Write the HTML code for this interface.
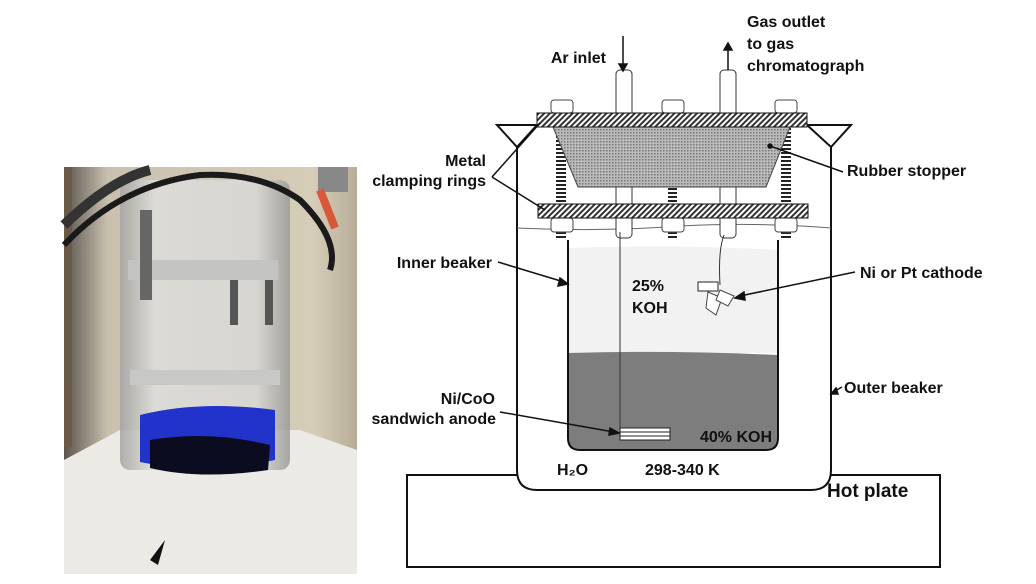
<!DOCTYPE html>
<html><head><meta charset="utf-8"><style>
html,body{margin:0;padding:0;background:#fff;}
svg{display:block;}
text{font-family:"Liberation Sans",sans-serif;font-weight:bold;font-size:16px;fill:#111;}
</style></head><body>
<svg width="1036" height="584" viewBox="0 0 1036 584">
<defs>
<pattern id="hatch" width="4" height="4" patternUnits="userSpaceOnUse" patternTransform="rotate(45)"><rect width="4" height="4" fill="#fff"/><rect width="2" height="4" fill="#333"/></pattern>
<pattern id="dots" width="3" height="3" patternUnits="userSpaceOnUse"><rect width="3" height="3" fill="#bbb"/><rect width="1.5" height="1.5" fill="#777"/></pattern>
<pattern id="thread" width="10" height="4" patternUnits="userSpaceOnUse"><rect width="10" height="4" fill="#fff"/><rect width="10" height="2" fill="#222"/></pattern>
<linearGradient id="bg" x1="0" y1="0" x2="1" y2="0"><stop offset="0" stop-color="#5a5550"/><stop offset="0.15" stop-color="#c9c1ae"/><stop offset="0.85" stop-color="#d6cdb8"/><stop offset="1" stop-color="#b7ad98"/></linearGradient>
<linearGradient id="glass" x1="0" y1="0" x2="1" y2="0"><stop offset="0" stop-color="#a4a4a2"/><stop offset="0.2" stop-color="#dededc"/><stop offset="0.8" stop-color="#d8d8d6"/><stop offset="1" stop-color="#9a9a98"/></linearGradient>
</defs>

<!-- Photo -->
<g>
<rect x="64" y="167" width="293" height="407" fill="url(#bg)"/>
<rect x="64" y="167" width="8" height="280" fill="#6b5a48"/>
<path d="M64 460 L120 430 L300 430 L357 450 L357 574 L64 574 Z" fill="#eceae4"/>
<rect x="120" y="180" width="170" height="290" rx="10" fill="url(#glass)" opacity="0.85"/>
<rect x="128" y="260" width="150" height="20" fill="#c4c4c2"/>
<rect x="130" y="370" width="150" height="15" fill="#c8c8c6"/>
<rect x="140" y="210" width="12" height="90" fill="#666"/>
<rect x="230" y="280" width="8" height="45" fill="#555"/>
<rect x="265" y="280" width="8" height="45" fill="#555"/>
<path d="M140 415 Q200 400 275 410 L275 460 Q200 475 140 462 Z" fill="#2233cc"/>
<path d="M150 440 Q210 430 270 445 L268 470 Q200 480 150 468 Z" fill="#0c0c20"/>
<path d="M64 245 Q120 185 200 175 Q260 172 300 200 Q340 240 330 270" stroke="#1a1a1a" stroke-width="6" fill="none"/>
<path d="M64 225 Q110 180 150 170" stroke="#333" stroke-width="10" fill="none"/>
<rect x="318" y="167" width="30" height="25" fill="#888"/>
<path d="M320 190 L335 228" stroke="#d9583a" stroke-width="8"/>
<path d="M150 560 L165 540 L158 565 Z" fill="#111"/>
</g>

<!-- Hot plate -->
<rect x="407" y="475" width="533" height="92" fill="#fff" stroke="#111" stroke-width="2"/>
<text x="827" y="497" style="font-size:19px">Hot plate</text>

<!-- Outer beaker -->
<path d="M517 147 L517 470 Q517 490 537 490 L811 490 Q831 490 831 470 L831 147" fill="#fff" stroke="#111" stroke-width="2"/>
<path d="M497 125 L537 125 L517 147 Z M807 125 L851 125 L831 147 Z" fill="#fff" stroke="#111" stroke-width="2"/>
<path d="M517 228 Q600 232 680 226 Q760 222 831 228" fill="none" stroke="#666" stroke-width="1"/>

<!-- Inner beaker -->
<g>
<path d="M568 248 Q670 244 778 250 L778 353 L568 353 Z" fill="#f2f2f2"/>
<path d="M568 353 Q670 350 778 355 L778 438 Q778 450 766 450 L580 450 Q568 450 568 438 Z" fill="#7d7d7d"/>
<path d="M568 240 L568 438 Q568 450 580 450 L766 450 Q778 450 778 438 L778 240" fill="none" stroke="#111" stroke-width="2"/>
</g>

<!-- Bolts -->
<g>
<rect x="556" y="127" width="10" height="77" fill="url(#thread)"/>
<rect x="781" y="127" width="10" height="77" fill="url(#thread)"/>
<rect x="668" y="187" width="9" height="17" fill="url(#thread)"/>
<rect x="556" y="218" width="10" height="22" fill="url(#thread)"/>
<rect x="668" y="218" width="9" height="22" fill="url(#thread)"/>
<rect x="781" y="218" width="10" height="22" fill="url(#thread)"/>
<rect x="551" y="100" width="22" height="13" rx="3" fill="#fff" stroke="#444"/>
<rect x="662" y="100" width="22" height="13" rx="3" fill="#fff" stroke="#444"/>
<rect x="775" y="100" width="22" height="13" rx="3" fill="#fff" stroke="#444"/>
<rect x="551" y="218" width="22" height="14" rx="3" fill="#fff" stroke="#444"/>
<rect x="662" y="218" width="22" height="14" rx="3" fill="#fff" stroke="#444"/>
<rect x="775" y="218" width="22" height="14" rx="3" fill="#fff" stroke="#444"/>
</g>

<!-- Tubes -->
<rect x="616" y="70" width="16" height="168" rx="4" fill="#fff" stroke="#333"/>
<rect x="720" y="70" width="16" height="168" rx="4" fill="#fff" stroke="#333"/>
<!-- Stopper -->
<path d="M553 127 L790 127 L766 187 L578 187 Z" fill="url(#dots)" stroke="#444"/>
<!-- Rings -->
<rect x="537" y="113" width="270" height="14" fill="url(#hatch)" stroke="#111"/>
<rect x="538" y="204" width="270" height="14" fill="url(#hatch)" stroke="#111"/>

<!-- Wires/electrodes -->
<path d="M620 232 L620 432" stroke="#333" fill="none"/>
<path d="M724 235 Q718 250 720 285" stroke="#333" fill="none"/>
<g><rect x="620" y="428" width="50" height="12" fill="#fff" stroke="#222"/><line x1="620" y1="432" x2="670" y2="432" stroke="#222"/><line x1="620" y1="436" x2="670" y2="436" stroke="#222"/></g>
<g><rect x="698" y="282" width="20" height="9" fill="#fff" stroke="#222"/><path d="M708 292 L722 298 L716 315 L706 308 Z" fill="#fff" stroke="#444"/><path d="M720 290 L734 296 L728 306 L716 300 Z" fill="#fff" stroke="#444"/></g>

<!-- Arrows -->
<g stroke="#111" stroke-width="1.5" fill="#111">
<line x1="623" y1="36" x2="623" y2="66"/><path d="M619 64 L623 71 L627 64 Z"/>
<line x1="728" y1="48" x2="728" y2="70"/><path d="M724 50 L728 43 L732 50 Z"/>
<path d="M492 177 L540 123 M492 177 L545 210" fill="none"/>
<path d="M843 172 L770 146" fill="none"/><circle cx="770" cy="146" r="2"/>
<path d="M498 262 L564 282" fill="none"/><path d="M560 278 L568 284 L558 286 Z"/>
<path d="M855 272 L740 296" fill="none"/><path d="M744 292 L735 298 L745 300 Z"/>
<path d="M842 387 L833 392" fill="none"/><path d="M836 388 L831 394 L838 394 Z"/>
<path d="M500 412 L614 432" fill="none"/><path d="M610 428 L619 433 L609 435 Z"/>
</g>

<!-- Labels -->
<text x="606" y="63" text-anchor="end">Ar inlet</text>
<text x="747" y="27">Gas outlet</text>
<text x="747" y="49">to gas</text>
<text x="747" y="71">chromatograph</text>
<text x="486" y="166" text-anchor="end">Metal</text>
<text x="486" y="186" text-anchor="end">clamping rings</text>
<text x="847" y="176">Rubber stopper</text>
<text x="492" y="268" text-anchor="end">Inner beaker</text>
<text x="860" y="278">Ni or Pt cathode</text>
<text x="632" y="291">25%</text>
<text x="632" y="313">KOH</text>
<text x="844" y="393">Outer beaker</text>
<text x="495" y="404" text-anchor="end">Ni/CoO</text>
<text x="496" y="424" text-anchor="end">sandwich anode</text>
<text x="700" y="442">40% KOH</text>
<text x="557" y="475">H₂O</text>
<text x="645" y="475">298-340 K</text>
</svg>
</body></html>
